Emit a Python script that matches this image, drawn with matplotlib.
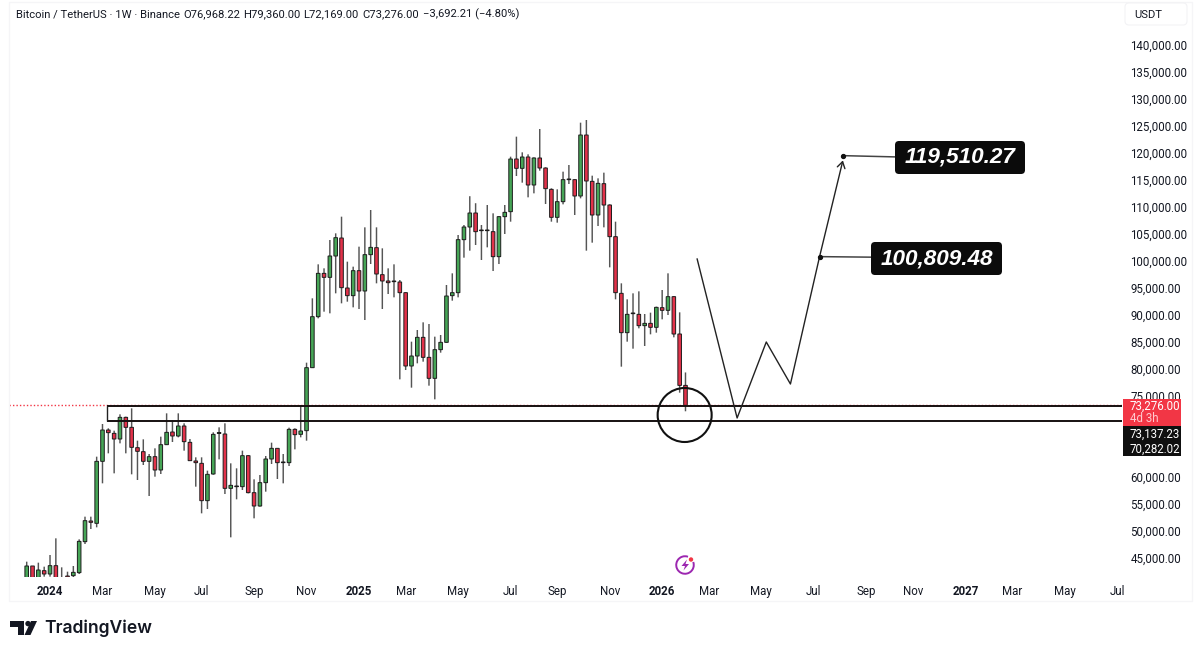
import matplotlib
matplotlib.use("Agg")
import matplotlib.pyplot as plt
import matplotlib.dates as mdates
import numpy as np
import pandas as pd
from matplotlib.patches import FancyBboxPatch, Rectangle, Polygon, Circle, Ellipse, Arc
from matplotlib.transforms import Affine2D

plt.rcParams["font.family"] = ["Roboto", "DejaVu Sans"]

# Weekly BTC/USDT candles
week_dates = pd.date_range("2023-12-04", periods=114, freq="7D")

opens = [
    41000, 43520, 41000, 42653, 42036, 43580, 41000, 41665, 41727, 42283,
    48024, 51851, 51419, 62901, 68704, 68086, 67037, 71049, 69197, 65432,
    64691, 62901, 63765, 61296, 65987, 68333, 67592, 69444, 66419, 62963,
    62530, 55616, 60555, 68086, 67963, 57900, 58333, 58209, 63950, 57098,
    54629, 58950, 63333, 65308, 62777, 62654, 68827, 67901, 68579, 80246,
    89690, 97715, 96975, 100925, 104259, 95000, 93580, 98209, 94444, 101172,
    102469, 97469, 96296, 96296, 96110, 94135, 80555, 82407, 85864, 82160,
    78271, 83580, 84938, 93580, 94135, 103950, 106296, 108888, 105740, 105740,
    105432, 100802, 108209, 109135, 118888, 117160, 119259, 114074, 119074, 117222,
    113271, 108086, 110987, 115185, 115061, 112037, 123333, 114753, 108518, 114321,
    110370, 104506, 94012, 86728, 90246, 90123, 88024, 88456, 87716, 91358,
    90864, 93395, 86481, 76968,
]
highs = [
    44320, 43520, 44135, 43394, 45555, 48641, 43271, 42468, 43517, 48456,
    52654, 52654, 63765, 69814, 69012, 68580, 71605, 71173, 72716, 66728,
    66975, 64259, 65308, 67469, 71790, 70432, 71790, 69938, 67037, 63642,
    63642, 61172, 68272, 69197, 69938, 62530, 61605, 64876, 64074, 59567,
    60370, 63889, 66358, 65308, 64259, 69136, 69012, 73333, 81172, 93086,
    99382, 98641, 103888, 105123, 108209, 99876, 98950, 102654, 106234, 109444,
    106234, 102345, 98641, 99382, 96481, 94200, 85061, 87222, 88641, 88333,
    85987, 86296, 95555, 97715, 104814, 106666, 112000, 110700, 106666, 110370,
    108827, 108333, 110370, 119321, 123025, 120123, 119753, 119197, 124444, 117345,
    113456, 113271, 116543, 117777, 115123, 125617, 126111, 115802, 115308, 116358,
    110493, 107283, 95864, 92900, 94012, 94382, 90185, 90432, 91543, 94629,
    97716, 93500, 90493, 79360,
]
lows = [
    40500, 40300, 40500, 41543, 41543, 40500, 40800, 41000, 41420, 42036,
    47592, 50369, 50678, 58827, 64382, 60679, 66234, 64382, 60493, 59444,
    62222, 56481, 60061, 60555, 65926, 66481, 67345, 64876, 62963, 58209,
    53271, 54073, 60432, 63271, 56851, 48826, 55863, 57592, 56975, 52345,
    54506, 57284, 62407, 59630, 58827, 62037, 65123, 67345, 66727, 80200,
    89382, 90616, 90308, 94012, 92160, 92468, 91419, 91110, 89073, 99444,
    95864, 91110, 93888, 93271, 78085, 79814, 76543, 81048, 81358, 76913,
    74382, 83024, 84876, 92654, 93271, 100617, 101913, 102962, 100185, 102530,
    98147, 99443, 105000, 107283, 115740, 114506, 111790, 112530, 116728, 110555,
    107283, 107098, 110493, 114259, 108518, 111604, 101913, 103395, 106481, 106234,
    98827, 92900, 80431, 85061, 83765, 87530, 84259, 86419, 86728, 89197,
    90000, 85864, 75617, 72169,
]
closes = [
    43520, 41000, 42776, 42036, 43580, 41000, 41200, 41420, 42345, 48085,
    51913, 51604, 62901, 68704, 68210, 67037, 71049, 69197, 65493, 64753,
    62901, 63765, 61296, 65987, 68272, 67592, 69444, 66543, 63024, 62654,
    55616, 60493, 67901, 68210, 57900, 58456, 58209, 63950, 57098, 54629,
    58950, 63333, 65308, 62654, 62654, 68827, 67839, 68519, 80246, 89690,
    97715, 96975, 100925, 104320, 95061, 93580, 98209, 94444, 101172, 102530,
    97592, 96296, 95987, 96172, 94135, 80555, 82407, 85864, 82160, 78271,
    83580, 84938, 93518, 94135, 103950, 106296, 108888, 105432, 105617, 105617,
    100802, 108209, 109012, 118888, 117160, 119259, 114074, 119074, 117222, 113395,
    108086, 110987, 115061, 115061, 112037, 123333, 114814, 108518, 114382, 110370,
    104506, 94135, 86728, 90123, 90370, 88024, 88456, 87716, 91419, 90864,
    93395, 86481, 76968, 73276,
]

# Support band and last price
band_top = 73137.23
band_bottom = 70282.02
band_start = "2024-03-10"
last_price = 73276.00

# Hand-drawn scenario path and its two target call-outs
path_dates = ["2026-02-16", "2026-04-05", "2026-05-10", "2026-06-08", "2026-07-13", "2026-08-10"]
path_prices = [100370, 70926, 85000, 77222, 100809.48, 118630]
target_labels = ["119,510.27", "100,809.48"]
target_prices = [119510.27, 100809.48]
target_dates = ["2026-08-10", "2026-07-13"]
target_end_dates = ["2026-11-18", "2026-10-27"]
target_end_prices = [119140, 100640]

# Circled area around the latest candle
circle_date = "2026-02-01"
circle_price = 71481

# Time axis
tick_dates = [
    "2024-01-01", "2024-03-04", "2024-05-06", "2024-07-01", "2024-09-02", "2024-11-04",
    "2025-01-06", "2025-03-03", "2025-05-05", "2025-07-07", "2025-09-01", "2025-11-03",
    "2026-01-05", "2026-03-02", "2026-05-04", "2026-07-06", "2026-09-07", "2026-11-02",
    "2027-01-04", "2027-03-01", "2027-05-03", "2027-07-05",
]
tick_labels = [
    "2024", "Mar", "May", "Jul", "Sep", "Nov",
    "2025", "Mar", "May", "Jul", "Sep", "Nov",
    "2026", "Mar", "May", "Jul", "Sep", "Nov",
    "2027", "Mar", "May", "Jul",
]
# 65,000 and 70,000 sit behind the price tags, so the scale skips them
price_ticks = [45000, 50000, 55000, 60000, 75000, 80000, 85000, 90000, 95000, 100000, 105000,
               110000, 115000, 120000, 125000, 130000, 135000, 140000]

INK = "#131722"
GREEN = "#46a556"
RED = "#e2324a"

W, H = 1200, 655
fig = plt.figure(figsize=(W / 100, H / 100), dpi=100, facecolor="white")
screen = Affine2D().scale(1, -1).translate(0, H)  # overlay elements placed from the top-left corner


def to_num(values):
    return mdates.date2num(pd.to_datetime(values))


ax_left, ax_right, ax_top, ax_bottom = 9, 1122, 8, 577
ax = fig.add_axes([ax_left / W, 1 - ax_bottom / H, (ax_right - ax_left) / W, (ax_bottom - ax_top) / H])
ax.set_facecolor("white")
for spine in ax.spines.values():
    spine.set_visible(False)

# Panel outline around chart and scales
fig.add_artist(Rectangle((9, 2), 1183, 599, transform=screen, fill=False, ec="#f5f5f7", lw=1.0))

first_day = mdates.date2num(week_dates[0])
day_per_px = 7 / 5.83
ax.set_xlim(first_day + (ax_left - 26.7) * day_per_px, first_day + (ax_right - 26.7) * day_per_px)
ax.set_ylim(41481, 146852)

x = to_num(week_dates)
o, h, l, c = map(np.array, (opens, highs, lows, closes))
up = c >= o

# Candles: wicks underneath, bodies on top
wicks = ax.vlines(x, l, h, color="#555555", lw=1.05, zorder=2)
wicks.set_snap(False)
bodies = ax.bar(x, np.abs(c - o), bottom=np.minimum(o, c), width=4.3,
                color=np.where(up, GREEN, RED), edgecolor="#1c1c1c", lw=0.7, zorder=3)
for body in bodies:
    body.set_snap(False)

# Support band
band_x = to_num([band_start])[0]
right_edge = ax.get_xlim()[1]
ax.plot([ax.get_xlim()[0], right_edge], [last_price, last_price], color="#f23645",
        lw=1.0, ls=(0, (1, 1.5)), zorder=4)
ax.hlines([band_top, band_bottom], band_x, right_edge, color="#161010", lw=1.4, zorder=5)
ax.vlines(band_x, band_bottom, band_top, color="#222222", lw=1.0, zorder=5)

# Scenario path with open arrowhead on its last leg
path_x = to_num(path_dates)
ax.plot(path_x[:-1], path_prices[:-1], color="#222222", lw=1.0, zorder=5)
ax.annotate("", xy=(path_x[-1], path_prices[-1]), xytext=(path_x[-2], path_prices[-2]),
            arrowprops=dict(arrowstyle="->,head_length=0.45,head_width=0.28", color="#222222",
                            lw=1.0, shrinkA=0, shrinkB=0), zorder=5)

# Target call-outs
ax.plot(to_num(target_dates), target_prices, "o", color="#111111", ms=2.8, zorder=6)
for d0, p0, d1, p1 in zip(target_dates, target_prices, target_end_dates, target_end_prices):
    ax.plot(to_num([d0, d1]), [p0, p1], color="#444444", lw=1.1, zorder=5)

circle_w = 54 * day_per_px
circle_h = 54 * (ax.get_ylim()[1] - ax.get_ylim()[0]) / (ax_bottom - ax_top)
ax.add_patch(Ellipse((to_num([circle_date])[0], circle_price), circle_w, circle_h,
                     fill=False, ec="#111111", lw=1.5, zorder=6))

# Axis ticks and labels
ax.set_xticks(to_num(tick_dates))
ax.set_xticklabels(tick_labels)
ax.yaxis.tick_right()
ax.set_yticks(price_ticks)
ax.set_yticklabels([f"{v:,.2f}" for v in price_ticks])
ax.tick_params(axis="both", length=0, labelcolor=INK, labelsize=8.3)
ax.tick_params(axis="x", pad=5.5)
ax.tick_params(axis="y", pad=6)
for lab, text in zip(ax.get_xticklabels(), tick_labels):
    if text.isdigit():
        lab.set_fontweight("bold")

# Header line
header_parts = [
    (16, "Bitcoin / TetherUS · 1W · Binance"),
    (183, "O76,968.22"),
    (243, "H79,360.00"),
    (303, "L72,169.00"),
    (362, "C73,276.00"),
    (423, "−3,692.21 (−4.80%)"),
]
for px, part in header_parts:
    fig.text(px, 14, part, transform=screen, fontsize=8.1, color=INK, va="center", ha="left")

# Currency selector
fig.add_artist(FancyBboxPatch((1125, 3), 62, 22, boxstyle="round,pad=0,rounding_size=4",
                              transform=screen, fc="white", ec="#f3f3f5", lw=0.8))
fig.text(1134, 14.5, "USDT", transform=screen, fontsize=8.1, color=INK, va="center")

# Price-scale tags
fig.add_artist(Rectangle((1123, 399), 58, 27, transform=screen, fc="#f23645", ec="none", zorder=5))
fig.add_artist(Rectangle((1123, 426), 58, 30, transform=screen, fc="#0f0f0f", ec="none", zorder=5))
tag_rows = [(406.5, "73,276.00", "white"), (418.5, "4d 3h", "#ffc9ce"),
            (434, f"{band_top:,.2f}", "white"), (449, f"{band_bottom:,.2f}", "white")]
for py, text, colour in tag_rows:
    fig.text(1130, py, text, transform=screen, fontsize=8.3, color=colour, va="center", zorder=6)

# Boxes carrying the target prices
boxes = [(895, 141, 130, 33), (871, 242, 131, 33)]
for (bx, by, bw, bh), text in zip(boxes, target_labels):
    fig.add_artist(FancyBboxPatch((bx, by), bw, bh, boxstyle="round,pad=0,rounding_size=4",
                                  transform=screen, fc="#0b0b0b", ec="none", zorder=5))
    fig.text(bx + bw / 2, by + bh / 2, text, transform=screen, fontsize=16.2, color="white",
             family=["Liberation Sans", "DejaVu Sans"], style="italic", fontweight="bold",
             va="center", ha="center", zorder=6)

# Lightning badge
fig.add_artist(Arc((685, 565), 17.5, 17.5, theta1=-20, theta2=290, transform=screen, ec="#9c27b0", lw=1.4))
fig.add_artist(Polygon([(687, 559.5), (681.5, 566), (685, 566), (683.5, 570.5), (689, 564), (685.5, 564)],
                       closed=True, transform=screen, fc="#9c27b0", ec="none"))
fig.add_artist(Circle((691, 559.5), 2.2, transform=screen, fc="#f23645", ec="none"))

# Wordmark
fig.add_artist(Polygon([(10, 621), (24, 621), (24, 635), (17.5, 635), (17.5, 626.5), (10, 626.5)],
                       closed=True, transform=screen, fc="#131722", ec="none"))
fig.add_artist(Circle((28, 623.6), 2.7, transform=screen, fc="#131722", ec="none"))
fig.add_artist(Polygon([(31, 621), (37, 621), (30.5, 635), (24.5, 635)],
                       closed=True, transform=screen, fc="#131722", ec="none"))
fig.text(44, 628.5, "TradingView", transform=screen, fontsize=12.6, color="#131722",
         family=["Inter", "DejaVu Sans"], fontweight="semibold", va="center", ha="left")

fig.savefig("out.png", dpi=100, facecolor="white")
